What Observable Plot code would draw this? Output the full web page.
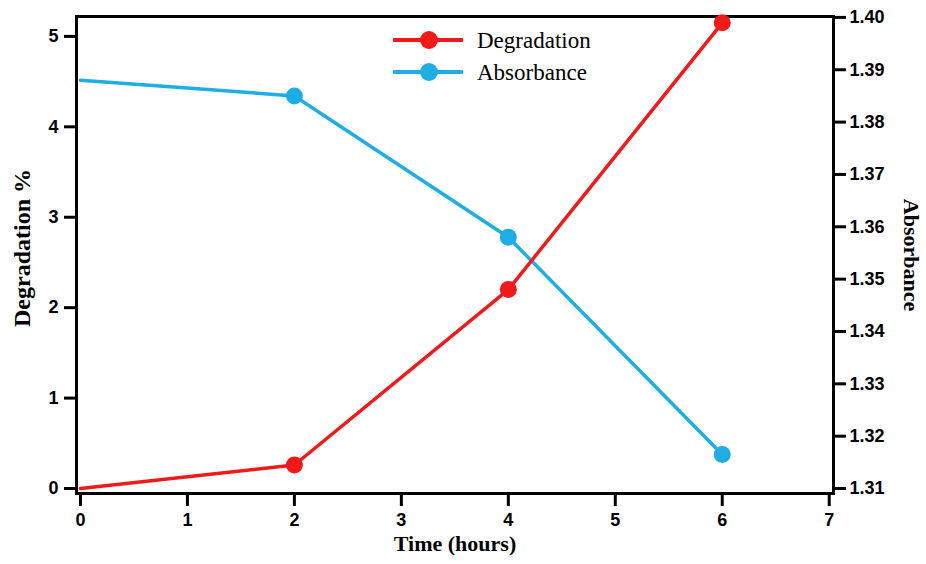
<!DOCTYPE html>
<html>
<head>
<meta charset="utf-8">
<script src="https://cdn.jsdelivr.net/npm/d3@7"></script>
<script src="https://cdn.jsdelivr.net/npm/@observablehq/plot@0.6"></script>
<style>
  html, body { margin: 0; padding: 0; background: #fff; }
  #wrap { position: relative; width: 926px; height: 564px; }
  #legend { position: absolute; left: 0; top: 0; pointer-events: none; }
</style>
</head>
<body>
<div id="wrap"></div>
<script>
// ---- data ----
const timeHours = [0, 2, 4, 6];
const degradation = [0, 0.26, 2.2, 5.15];
const absorbance = [1.388, 1.385, 1.358, 1.3165];
const xTicks = [0, 1, 2, 3, 4, 5, 6, 7];
const degTicks = [0, 1, 2, 3, 4, 5];
const absTicks = [1.31, 1.32, 1.33, 1.34, 1.35, 1.36, 1.37, 1.38, 1.39, 1.40];
const seriesNames = ["Degradation", "Absorbance"];
const seriesColors = ["#f01a1a", "#1eaee3"];

// map absorbance onto the left (degradation) scale
const absLo = 1.31, absHi = 1.40, degAtAbsHi = 5.21;
const absToY = a => (a - absLo) / (absHi - absLo) * degAtAbsHi;
const yToAbs = y => y / degAtAbsHi * (absHi - absLo) + absLo;

const degData = timeHours.map((t, i) => ({t, v: degradation[i]}));
const absData = timeHours.map((t, i) => ({t, v: absToY(absorbance[i])}));

const tickFont = {fontFamily: "'Liberation Sans', Arial, sans-serif", fontWeight: "bold", fontSize: 18};
const titleFont = "'Liberation Serif', 'Times New Roman', serif";

const chart = Plot.plot({
  width: 926,
  height: 564,
  marginLeft: 76,
  marginRight: 93,
  marginTop: 16,
  marginBottom: 71,
  style: {background: "white", color: "black", fontFamily: "'Liberation Sans', Arial, sans-serif"},
  x: {domain: [-0.037, 7.04]},
  y: {domain: [-0.055, 5.22]},
  marks: [
    Plot.axisX({ticks: xTicks, tickFormat: d3.format("d"), tickSize: 13, tickPadding: 7, strokeWidth: 3, label: null, ...tickFont}),
    Plot.axisY({ticks: degTicks, tickFormat: d3.format("d"), tickSize: 12, tickPadding: 6, strokeWidth: 3, label: null, ...tickFont}),
    Plot.axisY({anchor: "right", ticks: absTicks.map(absToY), tickFormat: d => yToAbs(d).toFixed(2),
      tickSize: 12, tickPadding: 4, strokeWidth: 3, label: null, ...tickFont}),
    Plot.frame({stroke: "black", strokeWidth: 3}),
    Plot.line(absData, {x: "t", y: "v", stroke: seriesColors[1], strokeWidth: 3.5}),
    Plot.line(degData, {x: "t", y: "v", stroke: seriesColors[0], strokeWidth: 3.5}),
    Plot.dot(absData.filter(d => d.t > 0), {x: "t", y: "v", r: 8.5, fill: seriesColors[1]}),
    Plot.dot(degData.filter(d => d.t > 0), {x: "t", y: "v", r: 8.5, fill: seriesColors[0]}),
    Plot.text(["Time (hours)"], {frameAnchor: "bottom", dy: 57, textAnchor: "middle", fontFamily: titleFont, fontWeight: "bold", fontSize: 22}),
    Plot.text(["Degradation %"], {frameAnchor: "left", dx: -54, dy: -7, rotate: -90, textAnchor: "middle", fontFamily: titleFont, fontWeight: "bold", fontSize: 24}),
    Plot.text(["Absorbance"], {frameAnchor: "right", dx: 78, rotate: 90, textAnchor: "middle", fontFamily: titleFont, fontWeight: "bold", fontSize: 22})
  ]
});
document.getElementById("wrap").appendChild(chart);

// legend overlay
const ns = "http://www.w3.org/2000/svg";
const leg = document.createElementNS(ns, "svg");
leg.setAttribute("id", "legend");
leg.setAttribute("width", 926);
leg.setAttribute("height", 564);
seriesNames.forEach((name, i) => {
  const cy = 40 + i * 32;
  const line = document.createElementNS(ns, "line");
  line.setAttribute("x1", 393); line.setAttribute("x2", 463);
  line.setAttribute("y1", cy); line.setAttribute("y2", cy);
  line.setAttribute("stroke", seriesColors[i]); line.setAttribute("stroke-width", 4);
  leg.appendChild(line);
  const c = document.createElementNS(ns, "circle");
  c.setAttribute("cx", 429); c.setAttribute("cy", cy); c.setAttribute("r", 9);
  c.setAttribute("fill", seriesColors[i]);
  leg.appendChild(c);
  const t = document.createElementNS(ns, "text");
  t.setAttribute("x", 477); t.setAttribute("y", cy);
  t.setAttribute("dy", "0.35em");
  t.setAttribute("font-family", titleFont);
  t.setAttribute("font-size", 23);
  t.textContent = name;
  leg.appendChild(t);
});
document.getElementById("wrap").appendChild(leg);
</script>
</body>
</html>
